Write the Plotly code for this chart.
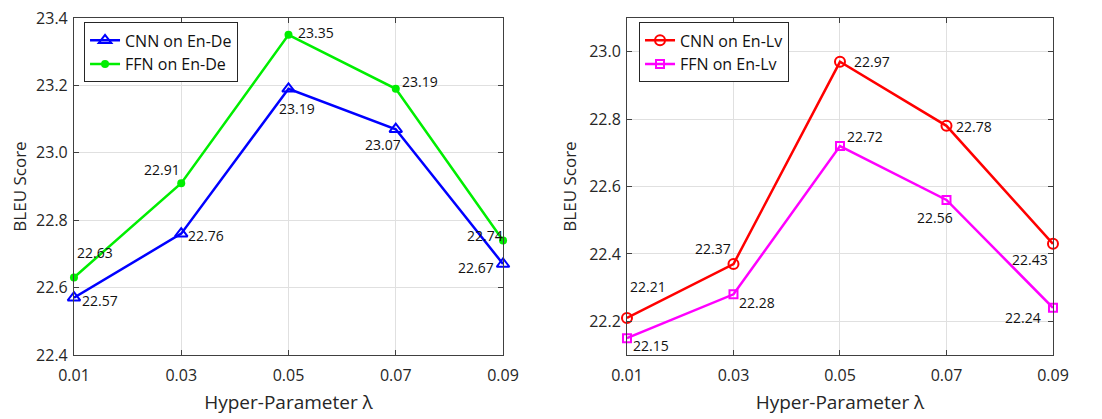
import plotly.graph_objects as go

x_vals = [0.01, 0.03, 0.05, 0.07, 0.09]
x_labels = ["0.01", "0.03", "0.05", "0.07", "0.09"]
cnn_ende = [22.57, 22.76, 23.19, 23.07, 22.67]
ffn_ende = [22.63, 22.91, 23.35, 23.19, 22.74]
cnn_enlv = [22.21, 22.37, 22.97, 22.78, 22.43]
ffn_enlv = [22.15, 22.28, 22.72, 22.56, 22.24]

FONT = "Open Sans"
fig = go.Figure()

fig.add_trace(go.Scatter(x=x_vals, y=cnn_ende, mode="lines+markers", name="CNN on En-De",
                         line=dict(color="#0000ff", width=2.5),
                         marker=dict(symbol="triangle-up-open", size=11, line=dict(width=2, color="#0000ff")),
                         xaxis="x", yaxis="y", legend="legend", cliponaxis=False))
fig.add_trace(go.Scatter(x=x_vals, y=ffn_ende, mode="lines+markers", name="FFN on En-De",
                         line=dict(color="#00ee00", width=2.5),
                         marker=dict(symbol="circle", size=8, color="#00ee00"),
                         xaxis="x", yaxis="y", legend="legend", cliponaxis=False))
fig.add_trace(go.Scatter(x=x_vals, y=cnn_enlv, mode="lines+markers", name="CNN on En-Lv",
                         line=dict(color="#ff0000", width=2.5),
                         marker=dict(symbol="circle-open", size=10, line=dict(width=2, color="#ff0000")),
                         xaxis="x2", yaxis="y2", legend="legend2", cliponaxis=False))
fig.add_trace(go.Scatter(x=x_vals, y=ffn_enlv, mode="lines+markers", name="FFN on En-Lv",
                         line=dict(color="#ff00ff", width=2.5),
                         marker=dict(symbol="square-open", size=8, line=dict(width=2, color="#ff00ff")),
                         xaxis="x2", yaxis="y2", legend="legend2", cliponaxis=False))

# label offsets (xshift, yshift) per point
off_cnn_ende = [(26, -3), (25, -2), (9, -20), (-13, -15), (-27, -4)]
off_ffn_ende = [(21, 25), (-19, 14), (28, 2), (24, 7), (-18, 5)]
off_cnn_enlv = [(21, 31), (-20, 16), (32, 0), (28, -1), (-23, -16)]
off_ffn_enlv = [(24, -7), (24, -8), (25, 10), (-11, -18), (-30, -10)]

annotations = []
for ys, offs, xr, yr in [(cnn_ende, off_cnn_ende, "x", "y"), (ffn_ende, off_ffn_ende, "x", "y"),
                         (cnn_enlv, off_cnn_enlv, "x2", "y2"), (ffn_enlv, off_ffn_enlv, "x2", "y2")]:
    for xv, yv, (dx, dy) in zip(x_vals, ys, offs):
        annotations.append(dict(x=xv, y=yv, xref=xr, yref=yr, text=f"{yv:.2f}", showarrow=False,
                                xshift=dx, yshift=dy, font=dict(family=FONT, size=14, color="#111111")))

axis_common = dict(showline=True, linecolor="#404040", linewidth=1, mirror="ticks",
                   ticks="inside", ticklen=5, tickcolor="#404040", showgrid=True,
                   gridcolor="#e0e0e0", gridwidth=1, zeroline=False, automargin=False,
                   ticklabeloverflow="allow",
                   tickfont=dict(family=FONT, size=16, color="#262626"))
ydom = [0.1557, 0.9757]
xtitle = dict(text="Hyper-Parameter λ", font=dict(family=FONT, size=19, color="#262626"), standoff=10)
ytitle = dict(text="BLEU Score", font=dict(family=FONT, size=17, color="#262626"), standoff=8)
fig.update_layout(
    width=1094, height=411, margin=dict(l=0, r=0, t=0, b=0),
    paper_bgcolor="white", plot_bgcolor="white",
    xaxis=dict(domain=[0.0603, 0.4525], range=[0.01, 0.09], tickvals=x_vals, ticktext=x_labels,
               title=xtitle, anchor="y", ticklabelstandoff=6, **axis_common),
    yaxis=dict(domain=ydom, range=[22.3999, 23.4001], tickvals=[22.4, 22.6, 22.8, 23.0, 23.2, 23.4],
               tickformat=".1f", title=ytitle, anchor="x", ticklabelstandoff=2, **axis_common),
    xaxis2=dict(domain=[0.5658, 0.9552], range=[0.01, 0.09], tickvals=x_vals, ticktext=x_labels,
                title=xtitle, anchor="y2", ticklabelstandoff=6, **axis_common),
    yaxis2=dict(domain=ydom, range=[22.1, 23.1], tickvals=[22.2, 22.4, 22.6, 22.8, 23.0],
                tickformat=".1f", title=ytitle, anchor="x2", ticklabelstandoff=2, **axis_common),
    legend=dict(x=0.0695, y=0.965, xanchor="left", yanchor="top", bgcolor="white",
                bordercolor="#262626", borderwidth=1, font=dict(family=FONT, size=16, color="#111111"),
                tracegroupgap=0),
    legend2=dict(x=0.5768, y=0.965, xanchor="left", yanchor="top", bgcolor="white",
                 bordercolor="#262626", borderwidth=1, font=dict(family=FONT, size=16, color="#111111"),
                 tracegroupgap=0),
    annotations=annotations,
)

fig.write_html("out.html")
